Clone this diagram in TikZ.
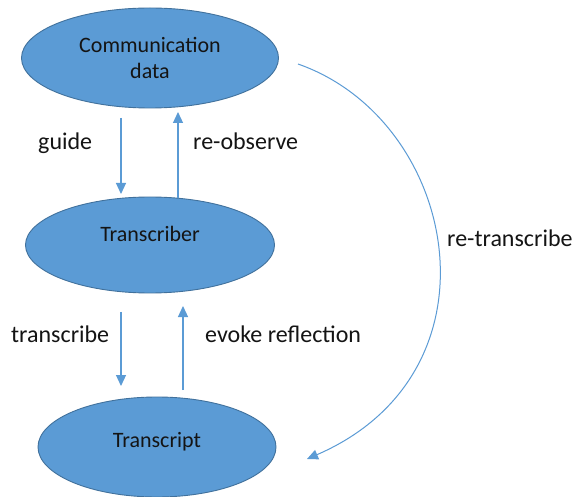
\documentclass[tikz,border=0pt]{standalone}
\usepackage{fontspec}
\setmainfont{Carlito}
\usetikzlibrary{shapes.geometric,arrows.meta}
\definecolor{fillblue}{HTML}{5B9BD5}
\definecolor{edgeblue}{HTML}{41719C}
\definecolor{linkblue}{HTML}{5B9BD5}
\begin{document}
\begin{tikzpicture}[x=1pt,y=-1pt,
  stage/.style={ellipse, draw=edgeblue, line width=0.9pt, fill=fillblue,
    inner sep=0pt, text=black!92, font=\fontsize{22}{26}\selectfont},
  tag/.style={anchor=base west, inner sep=0pt, text=black!92,
    font=\fontsize{24}{28}\selectfont},
  link/.style={draw=linkblue, line width=1.2pt,
    -{Triangle[length=11pt,width=10pt]}}]
  \useasboundingbox (0,0) rectangle (576,497);
  \fill[white] (0,0) rectangle (576,497);

  % the three stages
  \node[stage, minimum width=257pt, minimum height=100pt, align=center]
    (data) at (150,58) {Communication\\data};
  \node[stage, minimum width=249pt, minimum height=96pt,
    text height=16pt, text depth=22pt] (scriber) at (150,245) {Transcriber};
  \node[stage, minimum width=238pt, minimum height=100pt,
    text height=16pt, text depth=16pt] (script) at (157,447) {Transcript};

  % free ends of the connectors
  \coordinate (guideS) at (121,118);  \coordinate (guideE) at (121,194);
  \coordinate (reobsS) at (178,198);  \coordinate (reobsE) at (178,112);
  \coordinate (transS) at (121,312);  \coordinate (transE) at (121,386);
  \coordinate (evokeS) at (183,390);  \coordinate (evokeE) at (183,306);
  \coordinate (retrS)  at (298,64);   \coordinate (retrE)  at (307,459);

  \draw[link] (guideS) -- (guideE);
  \draw[link] (reobsS) -- (reobsE);
  \draw[link] (transS) -- (transE);
  \draw[link] (evokeS) -- (evokeE);
  \draw[link, line width=1pt] (retrS) .. controls (458,120) and (508,372) .. (retrE);

  % connector labels
  \node[tag] (lguide) at (38,150) {guide};
  \node[tag] (lreobs) at (193,150) {re-observe};
  \node[tag] (ltrans) at (11,342) {transcribe};
  \node[tag] (levoke) at (205,342) {evoke reflection};
  \node[tag] (lretr)  at (447,247) {re-transcribe};
\end{tikzpicture}
\end{document}
